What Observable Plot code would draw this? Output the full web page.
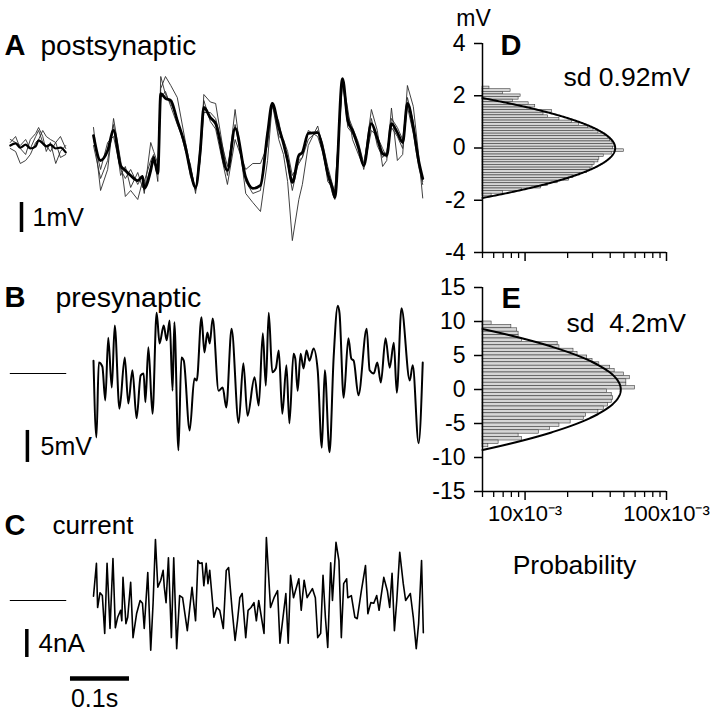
<!DOCTYPE html>
<html>
<head>
<meta charset="utf-8">
<script src="https://cdn.jsdelivr.net/npm/d3@7"></script>
<script src="https://cdn.jsdelivr.net/npm/@observablehq/plot@0.6"></script>
<style>
  html, body { margin: 0; padding: 0; background: #fff; }
  #fig { position: relative; width: 720px; height: 714px; background: #fff; overflow: hidden; }
</style>
</head>
<body>
<div id="fig"></div>
<script>
// ---------------- DATA ----------------
// Panel A: postsynaptic (mV), time in ms (0 = start of stimulus)
const aTime = [0,12,24,34,46,54,63,75,83,86,97,102,109,114,122,131,142,156,164,173,181,187,198,207,227,240,258,270,283,295,303,314,322,329,337,348,354,364,380,388,397,405,409,422,431,439,449,458,471,481,490,497,505,515,524,532,542,551,558];
const aMean = [0.33,-0.5,-0.17,0.5,-0.67,-0.83,-1.0,-1.17,-1.03,-1.43,-0.83,-0.4,-0.93,1.73,1.57,1.5,0.83,-0.07,-0.83,-1.4,-0.17,1.27,0.93,0.73,-0.83,0.57,-1.07,-1.43,-1.33,0.4,1.4,0.6,0.07,-0.5,-1.23,-0.33,-0.23,0.4,0.43,-0.07,-0.93,-1.43,-1.73,2.23,0.83,0.5,-0.07,-0.67,0.73,0.23,-0.27,-0.33,0.73,0.43,0.1,1.4,0.6,-0.5,-1.1];
const aTrace1 = [0.6,-1.5,-0.8,0.9,-0.5,-1.7,-1.5,-1.8,-1.2,-1.6,0.1,-0.2,-0.6,1.9,2.3,2.0,1.6,0.1,-0.7,-1.5,-0.5,1.7,1.45,1.4,-1.0,1.2,-1.6,-1.9,-2.2,-0.5,1.4,0.2,-0.3,-1.2,-3.17,-1.8,-1.3,0.0,0.65,0.0,-1.2,-1.4,-1.5,2.25,1.2,0.2,-0.3,-0.7,1.2,0.5,-0.7,-0.5,1.25,-0.5,-0.3,2.0,1.3,-0.3,-1.75];
const aTrace2 = [0.0,-1.1,-0.5,0.7,-1.0,-0.7,-1.4,-0.9,-1.4,-1.2,-0.5,-0.3,-1.2,2.3,1.7,1.4,0.9,-0.2,-0.6,-1.6,0.0,1.5,0.8,0.55,-1.3,0.2,-0.8,-0.6,-0.6,0.0,1.45,0.3,0.2,-0.2,-1.0,-0.6,-0.4,0.2,0.5,0.1,-0.7,-1.3,-1.6,2.2,0.6,0.4,0.0,-0.8,0.5,0.3,-0.1,-0.4,0.9,0.6,0.2,1.6,0.8,-0.6,-1.2];
const aTrace3 = [0.2,-0.8,0.1,0.3,-0.8,-1.1,-0.8,-1.3,-1.0,-1.5,-0.7,-0.6,-0.8,1.6,1.8,1.3,0.7,0.0,-1.0,-1.5,-0.3,1.1,1.1,0.9,-0.7,0.7,-1.2,-1.6,-1.5,0.5,1.3,0.8,0.0,-0.6,-1.5,-0.5,-0.4,0.5,0.3,-0.2,-1.0,-1.6,-1.8,2.1,1.0,0.6,0.1,-0.6,0.9,0.0,-0.4,-0.2,0.6,0.3,-0.1,1.3,0.4,-0.7,-1.3];
// Panel A: pre-stimulus segment
const aPreTime = [-141,-132,-124,-115,-107,-98,-93,-86,-80,-73,-64,-56,-47];
const aPreMean = [0,0.07,-0.07,0.03,-0.1,-0.03,0.17,0.07,-0.03,0.03,-0.1,-0.07,-0.23];
const aPre1 = [0.1,0.3,-0.1,-0.3,0.2,0.4,0.6,0.3,-0.2,0.1,-0.6,-0.2,0.0];
const aPre2 = [-0.1,-0.2,-0.6,-0.5,-0.3,0.1,0.2,0.5,0.3,0.2,0.1,-0.4,-0.3];
const aPre3 = [0.2,0.1,0.0,0.2,-0.1,0.3,0.5,0.1,0.0,-0.2,0.1,0.3,-0.1];

// Panel B: presynaptic (mV)
const bTime = [0,5,9,15,20,25,31,36,44,53,59,66,73,80,85,88,93,100,107,112,119,124,129,134,137,144,149,153,163,171,175,183,188,193,197,202,212,219,225,234,246,254,261,273,280,287,292,297,303,309,314,320,327,332,339,342,346,351,356,361,366,373,380,387,392,400,407,414,417,424,432,437,441,449,463,468,475,481,487,495,502,509,514,522,536,541,551,558];
const bVm = [2.0,-10.0,1.7,1.1,-4.2,5.6,-2.2,7.5,-5.5,2.5,-4.7,0.5,-7.0,-0.3,0.0,-4.5,4.1,-6.3,9.5,4.7,7.5,5.2,8.3,-2.7,8.0,-12.0,2.5,2.0,-8.9,-0.8,-1.1,8.8,3.3,6.4,4.7,8.6,-2.7,-2.2,-5.3,7.0,-7.7,1.6,-6.6,-0.6,-5.0,6.3,-1.9,9.5,0.2,0.8,3.6,-6.3,1.3,-7.8,3.1,2.3,-2.7,3.1,0.8,3.6,2.0,3.9,0.5,-11.6,0.5,-12.3,2.5,10.6,9.4,-3.8,5.5,2.3,2.0,-3.4,7.0,0.5,0.0,1.7,-1.4,5.5,0.9,4.8,-3.0,10.2,-1.1,1.3,-10.9,1.7];
const bPreTime = [-141,-47];
const bPreVm = [0,0];

// Panel C: injected current (nA)
const cTime = [0,5,7,11,15,19,23,28,33,37,41,46,48,50,55,58,63,67,73,79,83,86,92,97,101,105,109,114,118,120,123,127,132,136,141,146,151,159,167,173,177,180,184,187,191,194,197,204,209,214,220,225,229,235,240,244,248,252,258,262,267,272,276,280,289,293,300,306,312,316,326,330,334,339,348,352,357,362,371,376,380,385,389,393,397,402,405,411,416,420,424,429,431,437,443,447,454,461,465,470,475,480,484,492,498,502,506,510,514,519,525,529,537,542,547,551,556,559];
const cCurrent = [0.6,5.3,-1.0,1.1,0.7,-4.7,5.3,-4.0,6.0,-3.9,-2.4,-1.4,-2.9,3.3,-3.3,-2.4,2.6,-5.3,-1.9,0.0,-0.4,-4.0,4.0,-7.1,-0.4,8.7,1.9,2.9,4.3,1.9,-0.3,6.1,-5.3,6.1,-6.9,0.7,0.4,-4.3,1.9,-2.9,5.7,5.3,5.4,2.1,5.3,2.4,4.3,-2.4,-1.0,-1.4,-4.0,4.3,4.7,-1.4,-5.7,-2.9,0.4,1.0,-5.3,-1.4,-1.0,-0.3,-2.9,0.0,-4.7,9.0,-1.0,0.4,1.4,-6.1,1.0,-6.1,3.6,0.4,3.1,-1.4,2.9,0.4,1.7,0.4,-5.3,-4.7,3.6,-2.4,-6.7,5.4,0.0,8.3,5.7,-5.3,2.4,3.1,0.4,0.7,-2.4,-2.6,1.4,5.0,-1.9,-0.3,-0.4,0.7,-1.4,3.3,1.4,-1.0,3.9,-4.3,0.0,6.9,2.4,0.0,1.0,-2.4,-6.9,-3.3,5.7,-4.6];
const cPreTime = [-141,-47];
const cPreCurrent = [0,0];

// Scale bars (data units)
const aScaleBar = {t: -122, v1: -1.9, v2: -2.9};      // 1 mV
const bScaleBar = {t: -112, v1: -8.9, v2: -13.9};     // 5 mV
const cScaleBar = {t: -113, v1: -4.14, v2: -8.14};    // 4 nA
const timeBar = {t1: -39, t2: 61, v: -11.14};         // 0.1 s

// Panel D: postsynaptic amplitude histogram (bins of 0.1 mV, probability x10^-3)
const dBins = [2.3,2.2,2.1,2.0,1.9,1.8,1.7,1.6,1.5,1.4,1.3,1.2,1.1,1.0,0.9,0.8,0.7,0.6,0.5,0.4,0.3,0.2,0.1,0.0,-0.1,-0.2,-0.3,-0.4,-0.5,-0.6,-0.7,-0.8,-0.9,-1.0,-1.1,-1.2,-1.3,-1.4,-1.5,-1.6,-1.7,-1.8];
const dProb = [5.6,7.9,7.0,9.3,9.0,8.2,10.6,11.8,11.0,15.5,13.5,14.5,17.5,21.5,24.0,28.0,30.5,33.0,37.0,38.5,40.0,41.5,43.0,42.0,50.0,41.0,36.0,33.5,33.0,31.0,30.0,29.0,27.5,24.5,22.0,20.5,17.0,14.5,13.0,9.5,7.0,5.8];
const dSd = 0.92, dBinWidth = 0.1;

// Panel E: presynaptic amplitude histogram (bins of 0.5 mV, probability x10^-3)
const eBins = [9.75,9.25,8.75,8.25,7.75,7.25,6.75,6.25,5.75,5.25,4.75,4.25,3.75,3.25,2.75,2.25,1.75,1.25,0.75,0.25,-0.25,-0.75,-1.25,-1.75,-2.25,-2.75,-3.25,-3.75,-4.25,-4.75,-5.25,-5.75,-6.25,-6.75,-7.25,-7.75,-8.25];
const eProb = [5.8,8.0,8.8,9.0,9.0,9.5,17.0,17.5,22.0,23.5,27.5,30.0,33.5,40.0,43.0,50.0,55.0,52.0,52.0,60.0,38.0,41.0,42.0,41.0,38.5,36.0,33.0,27.0,26.0,21.0,17.5,15.0,12.5,9.0,9.5,6.5,5.5];
const eSd = 4.2, eBinWidth = 0.5;

const dYTicks = [-4,-2,0,2,4];
const eYTicks = [-15,-10,-5,0,5,10,15];
const probMinorTicks = [5,6,7,8,9,20,30,40,50,60,70,80,90];
const probMajorTicks = [10,100];

// ---------------- DRAWING ----------------
const FONT = '"Liberation Sans", Arial, Helvetica, sans-serif';
const fig = document.getElementById("fig");

function place(svg, left, top) {
  svg.style.position = "absolute";
  svg.style.left = left + "px";
  svg.style.top = top + "px";
  svg.style.background = "transparent";
  svg.style.overflow = "visible";
  svg.style.maxWidth = "none";
  svg.style.fontFamily = FONT;
  svg.style.whiteSpace = "pre";
  fig.appendChild(svg);
}

const pts = (xs, ys) => xs.map((t, i) => ({t, v: ys[i]}));
const label = (text, dx, dy, opts = {}) =>
  Plot.text([text], {text: d => d, frameAnchor: "top-left", dx, dy, textAnchor: "start",
    lineAnchor: "middle", fontSize: 26, fill: "#000", ...opts});

const tDomain = [-157.6, 588.1];
const thin = {x: "t", y: "v", stroke: "#2b2b2b", strokeWidth: 0.9};

// Panel A
place(Plot.plot({
  width: 440, height: 255, margin: 0,
  x: {domain: tDomain, axis: null},
  y: {domain: [-3.667, 4.833], axis: null},
  marks: [
    ...[aTrace1, aTrace2, aTrace3].map(s => Plot.line(pts(aTime, s), thin)),
    ...[aPre1, aPre2, aPre3].map(s => Plot.line(pts(aPreTime, s), thin)),
    Plot.line(pts(aTime, aMean), {x: "t", y: "v", stroke: "#000", strokeWidth: 2.8, curve: "monotone-x"}),
    Plot.line(pts(aPreTime, aPreMean), {x: "t", y: "v", stroke: "#000", strokeWidth: 2.2, curve: "monotone-x"}),
    Plot.ruleX([aScaleBar], {x: "t", y1: "v1", y2: "v2", stroke: "#000", strokeWidth: 3.5}),
    label("A", 4, 45, {fontWeight: "bold", fontSize: 29}),
    label("postsynaptic", 40, 46, {fontSize: 28}),
    label("1mV", 32, 217, {fontSize: 25})
  ]
}), 0, 0);

// Panel B
place(Plot.plot({
  width: 440, height: 230, margin: 0,
  x: {domain: tDomain, axis: null},
  y: {domain: [-17.5, 18.4375], axis: null},
  marks: [
    Plot.line(pts(bPreTime, bPreVm), {x: "t", y: "v", stroke: "#000", strokeWidth: 1.2}),
    Plot.line(pts(bTime, bVm), {x: "t", y: "v", stroke: "#000", strokeWidth: 2, curve: "monotone-x"}),
    Plot.ruleX([bScaleBar], {x: "t", y1: "v1", y2: "v2", stroke: "#000", strokeWidth: 3.5}),
    label("B", 4, 42, {fontWeight: "bold", fontSize: 29}),
    label("presynaptic", 55, 42, {fontSize: 28.5}),
    label("5mV", 40, 191, {fontSize: 25})
  ]
}), 0, 255);

// Panel C
place(Plot.plot({
  width: 440, height: 229, margin: 0,
  x: {domain: tDomain, axis: null},
  y: {domain: [-16.286, 16.429], axis: null},
  marks: [
    Plot.line(pts(cPreTime, cPreCurrent), {x: "t", y: "v", stroke: "#000", strokeWidth: 1.2}),
    Plot.line(pts(cTime, cCurrent), {x: "t", y: "v", stroke: "#000", strokeWidth: 1.6}),
    Plot.ruleX([cScaleBar], {x: "t", y1: "v1", y2: "v2", stroke: "#000", strokeWidth: 3.5}),
    Plot.ruleY([timeBar], {y: "v", x1: "t1", x2: "t2", stroke: "#000", strokeWidth: 4.5}),
    label("C", 4, 40, {fontWeight: "bold", fontSize: 29}),
    label("current", 52, 40),
    label("4nA", 38, 158, {fontSize: 26}),
    label("0.1s", 94, 213, {textAnchor: "middle", fontSize: 25})
  ]
}), 0, 485);

// Histograms
const PMIN = 5, PMAX = 100;
function histPlot({height, mt, mb, yDomain, yTicks, bins, probs, bw, sd, extra}) {
  const peak = 1000 * bw / (sd * Math.sqrt(2 * Math.PI));
  const vmax = sd * Math.sqrt(2 * Math.log(peak / PMIN));
  const fit = d3.range(0, 241).map(i => {
    const v = -vmax + 2 * vmax * i / 240;
    return {v, p: peak * Math.exp(-v * v / (2 * sd * sd))};
  });
  return Plot.plot({
    width: 280, height,
    marginLeft: 42, marginRight: 54, marginTop: mt, marginBottom: mb,
    x: {type: "log", domain: [PMIN, PMAX]},
    y: {domain: yDomain},
    marks: [
      Plot.rect(bins, {x1: () => PMIN, x2: (d, i) => probs[i], y1: d => d - bw / 2, y2: d => d + bw / 2,
        fill: "#d6d6d6", stroke: "#3c3c3c", strokeWidth: 0.6}),
      Plot.line(fit, {x: "p", y: "v", stroke: "#000", strokeWidth: 2}),
      Plot.ruleX([PMIN], {y1: () => yDomain[0], y2: () => yDomain[1], stroke: "#000", strokeWidth: 1.5}),
      Plot.ruleY([yDomain[0]], {x1: () => PMIN, x2: () => PMAX, stroke: "#000", strokeWidth: 1.5}),
      Plot.axisY(yTicks, {tickSize: 8, tickPadding: 9, fontSize: 23, label: null, strokeWidth: 1.5,
        tickFormat: d => String(d), fill: "#000"}),
      Plot.axisX(probMinorTicks, {tickSize: 6, tickFormat: () => "", label: null, strokeWidth: 1.3}),
      ...extra
    ]
  });
}

// Panel D
place(histPlot({
  height: 270, mt: 43, mb: 18, yDomain: [-4, 4], yTicks: dYTicks,
  bins: dBins, probs: dProb, bw: dBinWidth, sd: dSd,
  extra: [
    Plot.axisX(probMajorTicks, {tickSize: 9, tickFormat: () => "", label: null, strokeWidth: 1.5}),
    label("mV", -9, -25, {textAnchor: "middle", fontSize: 23}),
    label("D", 18, 2, {fontWeight: "bold", fontSize: 29}),
    label("sd 0.92mV", 81, 34, {fontSize: 26.5})
  ]
}), 440, 0);

// Panel E
place(histPlot({
  height: 310, mt: 17, mb: 89, yDomain: [-15, 15], yTicks: eYTicks,
  bins: eBins, probs: eProb, bw: eBinWidth, sd: eSd,
  extra: [
    Plot.axisX(probMajorTicks, {tickSize: 9, tickPadding: 5, label: null, strokeWidth: 1.5, fontSize: 22,
      fill: "#000", tickFormat: d => `${d}x10\u207B\u00B3`}),
    label("E", 19, 11, {fontWeight: "bold", fontSize: 29}),
    label("sd\u00A0 4.2mV", 84, 36, {fontSize: 26.5}),
    Plot.text(["Probability"], {text: d => d, frameAnchor: "bottom", dy: 74, lineAnchor: "middle", fontSize: 26.5, fill: "#000"})
  ]
}), 440, 270);
</script>
</body>
</html>
